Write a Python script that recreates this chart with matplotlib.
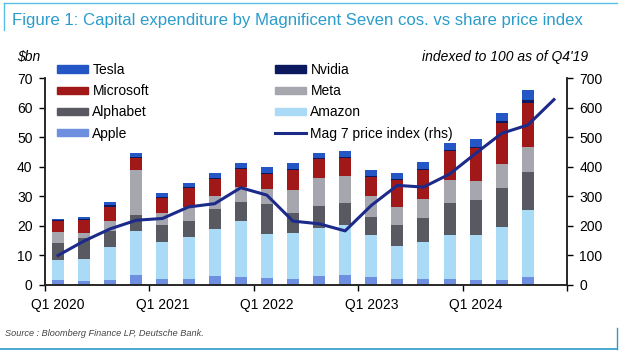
import matplotlib.pyplot as plt
import numpy as np
from matplotlib.patches import Patch
from matplotlib.lines import Line2D

plt.rcParams['font.family'] = ['Liberation Sans', 'DejaVu Sans']

# quarterly capex, $bn (Q1 2020 .. Q3 2024)
quarters = ['Q%d %d' % (q, y) for y in range(2020, 2025) for q in range(1, 5)]
apple = [1.6, 1.4, 1.6, 3.4, 2.1, 1.9, 3.0, 2.7, 2.4, 1.9, 2.9, 3.4, 2.7, 1.9, 1.9, 2.1, 1.7, 1.8, 2.7]
amazon = [6.9, 7.4, 11.3, 14.9, 12.3, 14.5, 15.9, 19.0, 14.8, 15.8, 16.5, 16.9, 14.2, 11.3, 12.6, 14.8, 15.1, 17.8, 22.7]
alphabet = [5.8, 7.2, 5.4, 5.3, 5.8, 5.3, 6.7, 6.2, 10.1, 6.8, 7.2, 7.5, 6.2, 7.1, 8.0, 10.8, 11.9, 13.1, 12.8]
meta = [3.7, 1.5, 3.2, 15.4, 4.0, 4.7, 4.6, 5.1, 5.1, 7.6, 9.6, 9.1, 7.0, 6.2, 6.5, 7.8, 6.5, 8.3, 8.5]
microsoft = [3.7, 4.5, 4.9, 4.0, 5.2, 6.3, 5.6, 6.2, 5.3, 6.8, 6.3, 6.2, 6.4, 9.0, 9.9, 9.8, 11.0, 13.9, 14.8]
nvidia = [0.3, 0.3, 0.6, 0.2, 0.3, 0.3, 0.3, 0.3, 0.3, 0.4, 0.3, 0.3, 0.3, 0.3, 0.3, 0.4, 0.4, 0.7, 1.0]
tesla = [0.4, 0.7, 1.2, 1.4, 1.5, 1.6, 1.9, 1.6, 2.0, 1.8, 1.9, 1.9, 2.1, 2.1, 2.5, 2.3, 2.9, 2.7, 3.5]
# Mag 7 price index (rhs), Q1 2020 .. Q4 2024
price_index = [100, 149, 190, 219, 225, 264, 275, 329, 304, 216, 207, 183, 269, 337, 331, 375, 445, 513, 541, 627]

series = [('Apple', apple, '#6e8fe0'), ('Amazon', amazon, '#a9dbf7'),
          ('Alphabet', alphabet, '#595962'), ('Meta', meta, '#a6a6ae'),
          ('Microsoft', microsoft, '#a01818'), ('Nvidia', nvidia, '#0b1a5e'),
          ('Tesla', tesla, '#2457c5')]
line_color = '#1c2a8a'

fig = plt.figure(figsize=(6.2, 3.52), dpi=100)
ax = fig.add_axes([45 / 620, 1 - 285 / 352, 522 / 620, 207 / 352])
ax2 = ax.twinx()

x = np.arange(len(apple))
bottom = np.zeros(len(apple))
for name, vals, col in series:
    ax.bar(x, vals, 0.46, bottom=bottom, color=col, label=name, zorder=2)
    bottom += np.array(vals)

ax2.plot(np.arange(len(price_index)), price_index, color=line_color, lw=2.2, zorder=3)

ax.set_xlim(-0.5, 19.5)
ax.set_ylim(0, 70)
ax2.set_ylim(0, 700)
ax.set_yticks(range(0, 71, 10))
ax2.set_yticks(range(0, 701, 100))

ax.set_xticks([-0.5, 3.5, 7.5, 11.5, 15.5, 19.5])
ax.set_xticklabels([])
ax.set_xticks(range(0, 20, 4), minor=True)
ax.set_xticklabels([quarters[i] for i in range(0, 20, 4)], minor=True)
ax.tick_params(axis='x', which='minor', length=0, pad=9, labelsize=10)
ax.tick_params(axis='x', which='major', length=4, width=1, direction='out')
ax.tick_params(axis='y', length=4, width=1, pad=5, labelsize=10)
ax2.tick_params(axis='y', length=4, width=1, pad=5, labelsize=10)

for a in (ax, ax2):
    a.spines['top'].set_visible(False)
    for s in ('left', 'right', 'bottom'):
        a.spines[s].set_linewidth(1.1)
        a.spines[s].set_color('#222222')
ax.patch.set_visible(False)

# legend, two columns
h = {name: Patch(color=col) for name, vals, col in series}
col1 = [h['Tesla'], h['Microsoft'], h['Alphabet'], h['Apple']]
col2 = [h['Nvidia'], h['Meta'], h['Amazon'], Line2D([], [], color=line_color, lw=2.2)]
kw = dict(frameon=False, fontsize=10, handlelength=2.2, handleheight=0.45,
          handletextpad=0.35, labelspacing=0.52, borderpad=0, borderaxespad=0,
          loc='upper left')
fig.legend(col1, ['Tesla', 'Microsoft', 'Alphabet', 'Apple'],
           bbox_to_anchor=(57 / 620, 1 - 63 / 352), **kw)
fig.legend(col2, ['Nvidia', 'Meta', 'Amazon', 'Mag 7 price index (rhs)'],
           bbox_to_anchor=(275 / 620, 1 - 63 / 352), **kw)

fig.text(17 / 620, 1 - 57 / 352, '$bn', fontsize=10, style='italic', va='center')
fig.text(588 / 620, 1 - 57 / 352, "indexed to 100 as of Q4'19", fontsize=10,
         style='italic', va='center', ha='right')

# report frame and title
fig.text(12 / 620, 1 - 20 / 352, 'Figure 1: Capital expenditure by Magnificent Seven cos. vs share price index',
         fontsize=12.1, color='#2b9ccb', va='center')
fig.add_artist(Line2D([4 / 620, 617 / 620], [1 - 3 / 352] * 2, color='#5bbde4', lw=1))
fig.add_artist(Line2D([4 / 620] * 2, [1 - 3 / 352, 1 - 30 / 352], color='#5bbde4', lw=1))
fig.add_artist(Line2D([0, 617 / 620], [1 - 349 / 352] * 2, color='#2b9ccb', lw=1.2))
fig.add_artist(Line2D([617 / 620] * 2, [1 - 328 / 352, 1 - 349 / 352], color='#2b9ccb', lw=1))
fig.text(5 / 620, 1 - 334 / 352, 'Source : Bloomberg Finance LP, Deutsche Bank.', fontsize=6.6,
         style='italic', color='#444444', va='center')

fig.savefig('out.png', dpi=100)
